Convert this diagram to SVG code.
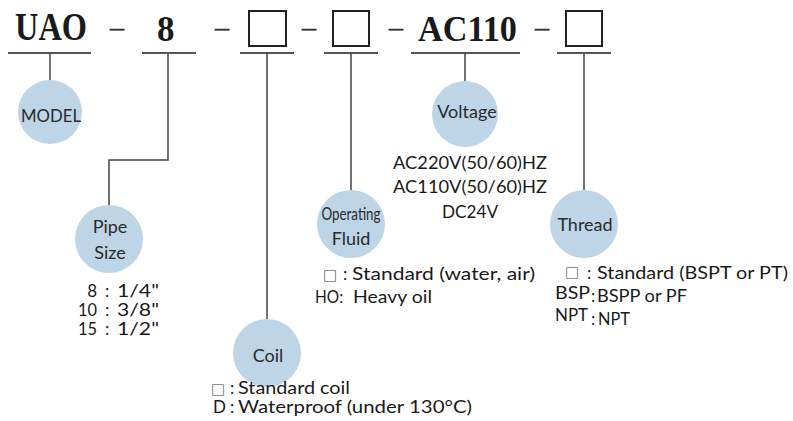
<svg xmlns="http://www.w3.org/2000/svg" width="793" height="421" viewBox="0 0 793 421">
<style>
.code{font-family:"Liberation Serif","Times New Roman",serif;font-weight:bold;fill:#1a1a1a}
.dash{font-family:"Liberation Serif","Times New Roman",serif;font-size:28px;fill:#333;stroke:#333;stroke-width:0.5}
.ul{stroke:#1e1e1e;stroke-width:1.6}
.con{stroke:#444;stroke-width:1.5;fill:none}
.box{fill:#fff;stroke:#222;stroke-width:2}
.bub{fill:#bdd5e7}
.lab{font-family:Lato,"Open Sans",sans-serif;font-size:18px;fill:#2a2a2a;text-anchor:middle}
.opt{font-family:Lato,"Open Sans",sans-serif;font-size:17px;fill:#1a1a1a}
.sq{font-family:"DejaVu Sans",sans-serif;font-size:15px;fill:#777}
</style>
<rect width="793" height="421" fill="#fff"/>
<g id="code">
<text class="code" x="15" y="40" font-size="39" textLength="72" lengthAdjust="spacingAndGlyphs">UAO</text>
<text class="dash" x="110" y="36">–</text>
<text class="code" x="157" y="41" font-size="35">8</text>
<text class="dash" x="215" y="36">–</text>
<rect class="box" x="249" y="11" width="37" height="35"/>
<text class="dash" x="302" y="36">–</text>
<rect class="box" x="333" y="11" width="36" height="35"/>
<text class="dash" x="389" y="36">–</text>
<text class="code" x="418" y="41" font-size="35" textLength="99" lengthAdjust="spacingAndGlyphs">AC110</text>
<text class="dash" x="535" y="36">–</text>
<rect class="box" x="566" y="11" width="36" height="35"/>
<line class="ul" x1="8" y1="53" x2="91" y2="53"/>
<line class="ul" x1="142" y1="53" x2="196" y2="53"/>
<line class="ul" x1="240" y1="53" x2="294" y2="53"/>
<line class="ul" x1="324" y1="53" x2="378" y2="53"/>
<line class="ul" x1="411" y1="53" x2="520" y2="53"/>
<line class="ul" x1="557" y1="53" x2="611" y2="53"/>
</g>
<g id="connectors">
<path class="con" d="M50 53V81"/>
<path class="con" d="M168 53V160H109V206"/>
<path class="con" d="M267 53V319"/>
<path class="con" d="M351 53V190"/>
<path class="con" d="M465 53V81"/>
<path class="con" d="M584 53V190"/>
</g>
<g id="model">
<circle class="bub" cx="50" cy="112" r="32"/>
<text class="lab" x="51" y="122" textLength="60" lengthAdjust="spacingAndGlyphs">MODEL</text>
</g>
<g id="pipe-size">
<circle class="bub" cx="109" cy="239" r="34"/>
<text class="lab" x="110" y="233">Pipe</text>
<text class="lab" x="110" y="259">Size</text>
<text class="opt" x="97" y="297" text-anchor="end" font-size="18">8</text>
<text class="opt" x="105" y="297">:</text>
<text class="opt" x="117" y="297" textLength="42" lengthAdjust="spacingAndGlyphs">1/4"</text>
<text class="opt" x="97" y="316" text-anchor="end" font-size="18" textLength="19" lengthAdjust="spacingAndGlyphs">10</text>
<text class="opt" x="105" y="316">:</text>
<text class="opt" x="117" y="316" textLength="42" lengthAdjust="spacingAndGlyphs">3/8"</text>
<text class="opt" x="97" y="335" text-anchor="end" font-size="18" textLength="19" lengthAdjust="spacingAndGlyphs">15</text>
<text class="opt" x="105" y="335">:</text>
<text class="opt" x="117" y="335" textLength="42" lengthAdjust="spacingAndGlyphs">1/2"</text>
</g>
<g id="coil">
<circle class="bub" cx="267" cy="353" r="34"/>
<text class="lab" x="268" y="362">Coil</text>
<text class="sq" x="211" y="394">□</text>
<text class="opt" x="230" y="394">:</text>
<text class="opt" x="238" y="394" textLength="112" lengthAdjust="spacingAndGlyphs">Standard coil</text>
<text class="opt" x="213" y="413" font-size="18">D</text>
<text class="opt" x="230" y="413">:</text>
<text class="opt" x="238" y="413" textLength="234" lengthAdjust="spacingAndGlyphs">Waterproof (under 130°C)</text>
</g>
<g id="operating-fluid">
<circle class="bub" cx="351" cy="224" r="34"/>
<text class="lab" x="351" y="220" font-size="16" textLength="59" lengthAdjust="spacingAndGlyphs">Operating</text>
<text class="lab" x="351" y="245" font-size="17">Fluid</text>
<text class="sq" x="323" y="280">□</text>
<text class="opt" x="343" y="280">:</text>
<text class="opt" x="352" y="280" textLength="183" lengthAdjust="spacingAndGlyphs">Standard (water, air)</text>
<text class="opt" x="315" y="303" textLength="28" lengthAdjust="spacingAndGlyphs">HO:</text>
<text class="opt" x="353" y="303" textLength="79" lengthAdjust="spacingAndGlyphs">Heavy oil</text>
</g>
<g id="voltage">
<circle class="bub" cx="465" cy="114" r="33"/>
<text class="lab" x="467" y="118">Voltage</text>
<text class="opt" x="470" y="169" text-anchor="middle" font-size="18" textLength="154" lengthAdjust="spacingAndGlyphs">AC220V(50/60)HZ</text>
<text class="opt" x="470" y="193" text-anchor="middle" font-size="18" textLength="154" lengthAdjust="spacingAndGlyphs">AC110V(50/60)HZ</text>
<text class="opt" x="470" y="218" text-anchor="middle" font-size="18" textLength="56" lengthAdjust="spacingAndGlyphs">DC24V</text>
</g>
<g id="thread">
<circle class="bub" cx="584" cy="224" r="34"/>
<text class="lab" x="585" y="231">Thread</text>
<text class="sq" x="565" y="277" font-size="14">□</text>
<text class="opt" x="587" y="279">:</text>
<text class="opt" x="597" y="279" textLength="191" lengthAdjust="spacingAndGlyphs">Standard (BSPT or PT)</text>
<text class="opt" x="555" y="299" textLength="35" lengthAdjust="spacingAndGlyphs">BSP</text>
<text class="opt" x="591" y="302">:</text>
<text class="opt" x="597" y="302" textLength="90" lengthAdjust="spacingAndGlyphs">BSPP or PF</text>
<text class="opt" x="555" y="321" textLength="33" lengthAdjust="spacingAndGlyphs">NPT</text>
<text class="opt" x="591" y="325">:</text>
<text class="opt" x="598" y="325" textLength="32" lengthAdjust="spacingAndGlyphs">NPT</text>
</g>
</svg>
